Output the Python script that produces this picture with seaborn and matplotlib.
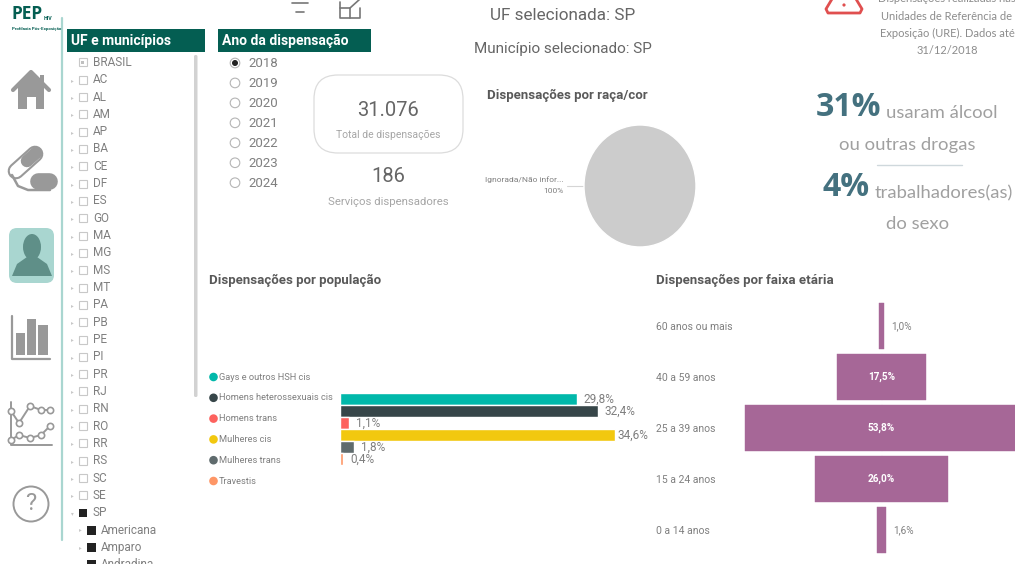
import matplotlib
matplotlib.use('Agg')
import matplotlib.pyplot as plt
from matplotlib.patches import Rectangle, FancyBboxPatch, Circle, Ellipse, Polygon
import pandas as pd
import seaborn as sns

W, H = 1015, 564

ufList = ['AC', 'AL', 'AM', 'AP', 'BA', 'CE', 'DF', 'ES', 'GO', 'MA', 'MG', 'MS', 'MT', 'PA', 'PB',
          'PE', 'PI', 'PR', 'RJ', 'RN', 'RO', 'RR', 'RS', 'SC', 'SE', 'SP']
cityList = ['Americana', 'Amparo', 'Andradina']
yearList = ['2018', '2019', '2020', '2021', '2022', '2023', '2024']

popCats = ['Gays e outros HSH cis', 'Homens heterossexuais cis', 'Homens trans',
           'Mulheres cis', 'Mulheres trans', 'Travestis']
popVals = [29.8, 32.4, 1.1, 34.6, 1.8, 0.4]
popColors = ['#01b8aa', '#374649', '#fd625e', '#f2c80f', '#5f6b6d', '#fe9666']

ageCats = ['60 anos ou mais', '40 a 59 anos', '25 a 39 anos', '15 a 24 anos', '0 a 14 anos']
ageVals = [1.0, 17.5, 53.8, 26.0, 1.6]

raceCats = ['Ignorada/Não infor...']
raceVals = [100]

sns.set_theme(style='white')
plt.rcParams['font.family'] = ['Roboto', 'DejaVu Sans']

GREEN = '#045e52'
MINT = '#a9d6d0'
ICON = '#999999'
TXT = '#7f7f7f'
PURPLE = '#a66797'


def axPx(left, top, right, bottom):
    return fig.add_axes([left / W, 1 - bottom / H, (right - left) / W, (bottom - top) / H])


def comma(v, dec=1):
    return f'{v:.{dec}f}'.replace('.', ',') + '%'


fig = plt.figure(figsize=(W / 100, H / 100), dpi=100, facecolor='white')

# overlay in pixel coords for all the dashboard furniture
bg = axPx(0, 0, W, H)
bg.set_xlim(0, W)
bg.set_ylim(H, 0)
bg.axis('off')

# logo
bg.text(12, 14, 'PEP', fontsize=12.5, weight='bold', color=GREEN, va='center', family='Open Sans')
bg.text(44, 18.5, 'HIV', fontsize=3.8, weight='bold', color=GREEN, va='center')
bg.text(12, 28.5, 'Profilaxia Pós-Exposição', fontsize=3.2, weight='bold', color=GREEN, va='center')

# sidebar line
bg.plot([62, 62], [18, 540], color=MINT, lw=1.6)

# home icon
bg.add_patch(Rectangle((18, 84), 26, 25, color=ICON, lw=0))
bg.add_patch(Rectangle((40, 75), 4, 10, color=ICON, lw=0))
bg.add_patch(Rectangle((27, 97), 9, 12, color='white', lw=0))
bg.plot([13, 31, 49], [90, 72, 90], color=ICON, lw=3, solid_capstyle='round')
bg.add_patch(Polygon([(18, 86), (31, 73), (44, 86)], color=ICON, lw=0))

# pills icon
bg.plot([16, 35], [171, 154], color=ICON, lw=12, solid_capstyle='round')
bg.plot([16, 35], [171, 154], color='white', lw=9, solid_capstyle='round')
bg.plot([27, 36], [161, 153], color=ICON, lw=9, solid_capstyle='round')
bg.plot([38, 49], [181, 181], color=ICON, lw=12, solid_capstyle='round', zorder=3)
bg.plot([12, 18, 28, 50], [175, 186, 190, 190], color=ICON, lw=1.8)

# person icon, selected
bg.add_patch(FancyBboxPatch((9, 228), 45, 55, boxstyle='round,pad=0,rounding_size=8', color=MINT, lw=0))
bg.add_patch(Ellipse((32, 247), 18, 26, color='#5f8f88', lw=0))
bg.add_patch(Polygon([(12, 276), (17, 264), (27, 257), (37, 257), (47, 264), (52, 276)], color='#5f8f88', lw=0))

# bars icon
bg.plot([12, 12, 50], [316, 359, 359], color=ICON, lw=1.6)
bg.add_patch(Rectangle((16, 333), 9, 22, color=ICON, lw=0))
bg.add_patch(Rectangle((27, 319), 9, 36, color=ICON, lw=0))
bg.add_patch(Rectangle((38, 325), 10, 30, color=ICON, lw=0))

# lines icon
bg.plot([11, 11, 52], [402, 445, 445], color=ICON, lw=1.4)
bg.plot([11, 19, 30, 41, 50], [411, 423, 406, 410, 410], color=ICON, lw=1.4, marker='o', ms=4.5, mfc='white', mew=1.2)
bg.plot([11, 19, 30, 41, 50], [440, 435, 438, 435, 426], color=ICON, lw=1.4, marker='o', ms=4.5, mfc='white', mew=1.2)

# help icon
bg.add_patch(Circle((31, 504), 17.5, fill=False, ec=ICON, lw=1.4))
bg.text(31, 504, '?', fontsize=17, color=ICON, ha='center', va='center')

# slicer headers
bg.add_patch(Rectangle((67, 29), 138, 23, color=GREEN, lw=0))
bg.text(71, 40.5, 'UF e municípios', color='white', fontsize=10, weight='bold', va='center')
bg.add_patch(Rectangle((218, 29), 153, 23, color=GREEN, lw=0))
bg.text(222, 40.5, 'Ano da dispensação', color='white', fontsize=10, weight='bold', va='center')

# UF tree
bg.add_patch(FancyBboxPatch((194, 55), 3.5, 342, boxstyle='round,pad=0,rounding_size=1.5', color='#d2d2d2', lw=0))
bg.add_patch(Rectangle((79, 58), 8, 8, fill=False, ec='#c8c8c8', lw=0.8))
bg.add_patch(Rectangle((81.5, 60.5), 3, 3, color='#c0c0c0', lw=0))
bg.text(93, 62.5, 'BRASIL', fontsize=8.5, color=TXT, va='center')
for i, uf in enumerate(ufList):
    y = 79.7 + 17.32 * i
    on = uf == 'SP'
    bg.text(72.5, y + 0.5, '▾' if on else '▸', fontsize=4, color='#c8c8c8', ha='center', va='center', family='DejaVu Sans')
    bg.add_patch(Rectangle((79, y - 4), 8, 8, color='#222222', lw=0) if on else Rectangle((79, y - 4), 8, 8, fill=False, ec='#c8c8c8', lw=0.8))
    bg.text(93, y, uf, fontsize=8.5, color=TXT, va='center')
for i, city in enumerate(cityList):
    y = 530 + 17.2 * i
    bg.text(80.5, y, '▸', fontsize=4, color='#c8c8c8', ha='center', va='center', family='DejaVu Sans')
    bg.add_patch(Rectangle((87, y - 4.5), 9, 9, color='#222222', lw=0))
    bg.text(101, y, city, fontsize=8.5, color=TXT, va='center')

# year slicer
for i, year in enumerate(yearList):
    y = 63 + 19.95 * i
    bg.add_patch(Circle((235, y), 4.8, fill=False, ec='#b5b5b5', lw=0.8))
    if i == 0:
        bg.add_patch(Circle((235, y), 3, color='#222222', lw=0))
    bg.text(248, y + 0.8, year, fontsize=9.5, color=TXT, va='center')

# kpi cards
bg.add_patch(FancyBboxPatch((314, 75), 149, 78, boxstyle='round,pad=0,rounding_size=24', fill=False, ec='#dcdcdc', lw=0.9))
bg.text(388.5, 110, '31.076', fontsize=14.5, color='#666666', ha='center', va='center')
bg.text(388.5, 135, 'Total de dispensações', fontsize=7.5, color='#a6a6a6', ha='center', va='center')
bg.text(388.5, 176, '186', fontsize=14.5, color='#666666', ha='center', va='center')
bg.text(388.5, 202, 'Serviços dispensadores', fontsize=8.2, color='#a6a6a6', ha='center', va='center')

# top icons
bg.plot([292, 308], [3, 3], color='#777777', lw=1.2)
bg.plot([296, 304], [12, 12], color='#777777', lw=1.2)
bg.plot([340, 340, 360, 360], [2, 18, 18, 8], color='#777777', lw=1.2)
bg.plot([340, 350, 350], [8, 8, 18], color='#777777', lw=1.2)
bg.plot([350, 360], [8, -1], color='#777777', lw=1.2)
bg.plot([832, 826, 828, 860, 862, 856], [-1, 9, 13, 13, 9, -1], color='#e04f4f', lw=2, solid_capstyle='round')
bg.add_patch(Circle((844, 5), 1.6, color='#e04f4f', lw=0))

# selection titles
bg.text(563, 15, 'UF selecionada: SP', fontsize=12.3, color='#666666', ha='center', va='center')
bg.text(563, 49, 'Município selecionado: SP', fontsize=11, color='#666666', ha='center', va='center')

# note on the right
noteLines = ['Dispensações realizadas nas', 'Unidades de Referência de', 'Exposição (URE). Dados até', '31/12/2018']
for i, line in enumerate(noteLines):
    bg.text(947, -1 + 17 * i, line, fontsize=8, color='#8c8c8c', ha='center', va='center', family='Lato')

# highlights
bg.text(816, 108, '31%', fontsize=23, weight='bold', color='#44717f', va='center', family='Open Sans')
bg.text(886, 113, 'usaram álcool', fontsize=13.3, color='#a0a0a0', va='center', family='Lato')
bg.text(907, 145, 'ou outras drogas', fontsize=13.3, color='#a0a0a0', ha='center', va='center', family='Lato')
bg.plot([877, 962], [165, 165], color='#cfd8dc', lw=1)
bg.text(823, 187, '4%', fontsize=23, weight='bold', color='#44717f', va='center', family='Open Sans')
bg.text(875, 193, 'trabalhadores(as)', fontsize=13.3, color='#a0a0a0', va='center', family='Lato')
bg.text(918, 224, 'do sexo', fontsize=13.3, color='#a0a0a0', ha='center', va='center', family='Lato')

# chart titles
bg.text(487, 95, 'Dispensações por raça/cor', fontsize=9.5, weight='bold', color='#595959', va='center')
bg.text(209, 280, 'Dispensações por população', fontsize=9.5, weight='bold', color='#595959', va='center')
bg.text(656, 280, 'Dispensações por faixa etária', fontsize=9.5, weight='bold', color='#595959', va='center')

# population legend
for i, (cat, col) in enumerate(zip(popCats, popColors)):
    y = 377 + 20.8 * i
    bg.add_patch(Circle((213.5, y), 4.3, color=col, lw=0))
    bg.text(219, y, cat, fontsize=6.7, color=TXT, va='center')

# raça/cor pie
pieAx = axPx(580, 122, 700, 250)
pieAx.pie(raceVals, colors=['#cccccc'], radius=1, startangle=90)
pieAx.set_aspect('auto')
pieAx.set_xlim(-60 / 56, 60 / 56)
pieAx.set_ylim(-64 / 61, 64 / 61)
bg.plot([567, 583], [186, 186], color='#d5d5d5', lw=0.8)
bg.text(564, 180, raceCats[0], fontsize=6, color=TXT, ha='right', va='center')
bg.text(564, 191, f'{raceVals[0]}%', fontsize=6, color=TXT, ha='right', va='center')

# population bars
popDf = pd.DataFrame({'pop': popCats, 'val': popVals})
popAx = axPx(340, 393, 640, 465)
sns.barplot(data=popDf, y='pop', x='val', hue='pop', palette=popColors, width=1, dodge=False,
            legend=False, saturation=1, ax=popAx)
popAx.set_xlim(0, 300 / 7.95)
popAx.axis('off')
popAx.patch.set_alpha(0)
for cont, v in zip(popAx.containers, popVals):
    # longest bar has its label pulled in so it stays in the visual
    popAx.bar_label(cont, labels=[comma(v)], padding=2 if v == max(popVals) else 5, fontsize=8.5, color=TXT, clip_on=False)

# age funnel, bars mirrored around zero
ageDf = pd.DataFrame({'age': ageCats, 'half': [v / 2 for v in ageVals]})
ageDf['neg'] = -ageDf['half']
ageAx = axPx(656, 300.5, W, 555.5)
sns.barplot(data=ageDf, y='age', x='half', color=PURPLE, saturation=1, width=0.9, ax=ageAx, edgecolor=PURPLE, linewidth=0.3)
sns.barplot(data=ageDf, y='age', x='neg', color=PURPLE, saturation=1, width=0.9, ax=ageAx, edgecolor=PURPLE, linewidth=0.3)
ageAx.set_xlim(-(881.5 - 656) / 5.09, (W - 881.5) / 5.09)
ageAx.set_xlabel('')
ageAx.set_ylabel('')
ageAx.set_xticks([])
sns.despine(ax=ageAx, left=True, bottom=True)
ageAx.patch.set_alpha(0)
ageAx.tick_params(axis='y', length=0, pad=0)
for lab in ageAx.get_yticklabels():
    lab.set_ha('left')
    lab.set_fontsize(7.5)
    lab.set_color(TXT)
for i, v in enumerate(ageVals):
    if v > 5:
        ageAx.text(0, i, comma(v), color='white', fontsize=7.2, weight='bold', ha='center', va='center')
    else:
        ageAx.text(v / 2 + 1.45, i, comma(v), color=TXT, fontsize=7.2, ha='left', va='center')

fig.savefig('out.png', dpi=100)
